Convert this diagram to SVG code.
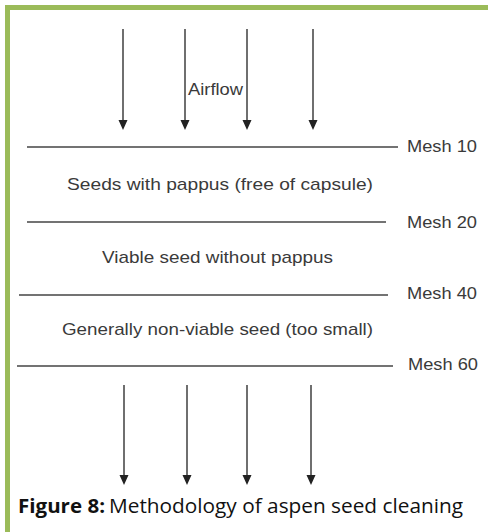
<svg xmlns="http://www.w3.org/2000/svg" width="488" height="532" viewBox="0 0 488 532">
  <style>
    .frame { fill: none; stroke: #9bbb59; stroke-width: 5; }
    .arrow { stroke: #333333; stroke-width: 1.4; fill: none; marker-end: url(#head); }
    .mesh { stroke: #444444; stroke-width: 1.3; }
    .lbl { font-family: "Liberation Sans", Arial, sans-serif; font-size: 17px; fill: #3a3a3a; }
    .cap { font-family: "Open Sans", "Liberation Sans", sans-serif; font-size: 20px; fill: #111111; }
  </style>
  <defs>
    <marker id="head" markerUnits="userSpaceOnUse" markerWidth="10" markerHeight="11" refX="5" refY="10" orient="auto-start-reverse" viewBox="0 0 10 11">
      <path d="M0,0 L10,0 L5,10 Z" fill="#222222" transform="rotate(0)"/>
    </marker>
  </defs>
  <rect width="488" height="532" fill="#ffffff"/>
  <path class="frame" d="M7.5,532 V7.5 H488"/>

  <g id="connectors">
    <line class="mesh" x1="27" y1="147" x2="398" y2="147"/>
    <line class="mesh" x1="27" y1="222" x2="386" y2="222"/>
    <line class="mesh" x1="19" y1="295" x2="388" y2="295"/>
    <line class="mesh" x1="17" y1="366" x2="393" y2="366"/>
  </g>

  <g id="top-arrows">
    <path d="M123,29 V121 M185,29 V121 M247,29 V121 M313,29 V121" stroke="#333" stroke-width="1.4"/>
    <path d="M118.5,120 L127.5,120 L123,130 Z M180.5,120 L189.5,120 L185,130 Z M242.5,120 L251.5,120 L247,130 Z M308.5,120 L317.5,120 L313,130 Z" fill="#222"/>
  </g>
  <g id="bottom-arrows">
    <path d="M124,385 V476 M187,385 V476 M247,385 V476 M311,385 V476" stroke="#333" stroke-width="1.4"/>
    <path d="M119.5,475 L128.5,475 L124,485 Z M182.5,475 L191.5,475 L187,485 Z M242.5,475 L251.5,475 L247,485 Z M306.5,475 L315.5,475 L311,485 Z" fill="#222"/>
  </g>

  <g id="airflow"><text class="lbl" x="188" y="95" textLength="55" lengthAdjust="spacingAndGlyphs">Airflow</text></g>

  <g id="mesh10"><text class="lbl" x="407" y="152" textLength="70" lengthAdjust="spacingAndGlyphs">Mesh 10</text></g>
  <g id="mesh20"><text class="lbl" x="407" y="228" textLength="70" lengthAdjust="spacingAndGlyphs">Mesh 20</text></g>
  <g id="mesh40"><text class="lbl" x="407" y="299" textLength="70" lengthAdjust="spacingAndGlyphs">Mesh 40</text></g>
  <g id="mesh60"><text class="lbl" x="408" y="370" textLength="70" lengthAdjust="spacingAndGlyphs">Mesh 60</text></g>

  <g id="layer1"><text class="lbl" x="67" y="190" textLength="306" lengthAdjust="spacingAndGlyphs">Seeds with pappus (free of capsule)</text></g>
  <g id="layer2"><text class="lbl" x="102" y="263" textLength="231" lengthAdjust="spacingAndGlyphs">Viable seed without pappus</text></g>
  <g id="layer3"><text class="lbl" x="62" y="335" textLength="311" lengthAdjust="spacingAndGlyphs">Generally non-viable seed (too small)</text></g>

  <g id="caption">
    <text class="cap" x="18" y="513"><tspan font-weight="bold" textLength="87" lengthAdjust="spacingAndGlyphs">Figure 8:</tspan><tspan x="109" textLength="354" lengthAdjust="spacingAndGlyphs">Methodology of aspen seed cleaning</tspan></text>
  </g>
</svg>
